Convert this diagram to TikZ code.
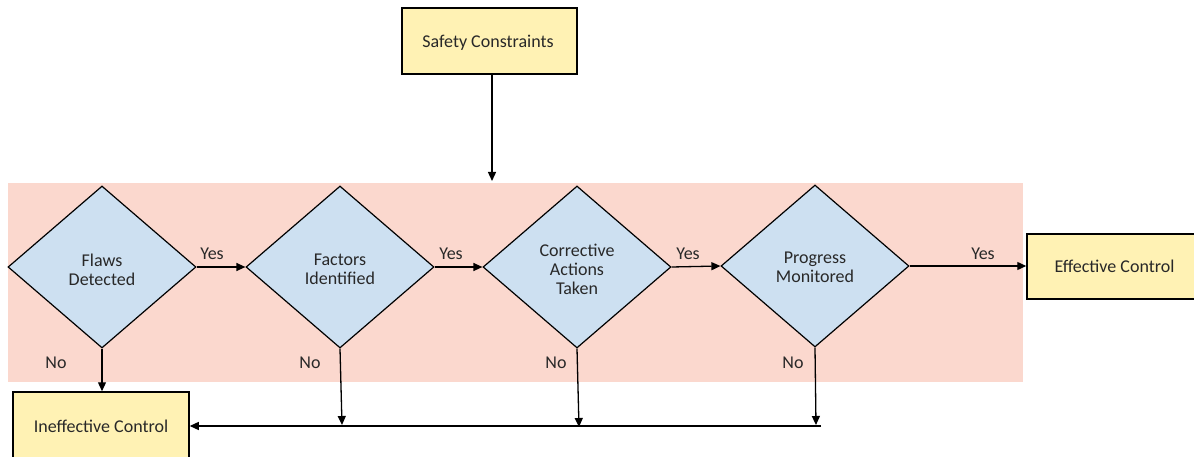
\documentclass[tikz,border=0pt]{standalone}
\usepackage{fontspec}
\setmainfont{Carlito}
\usetikzlibrary{shapes.geometric,arrows.meta}
\definecolor{bandpink}{RGB}{251,216,206}
\definecolor{boxyellow}{RGB}{255,242,180}
\definecolor{diablue}{RGB}{205,224,241}
\definecolor{txt}{RGB}{40,40,40}
\tikzset{
  yelbox/.style={draw=black,line width=1.5pt,fill=boxyellow,inner sep=0pt},
  decide/.style={diamond,draw=black,line width=1.2pt,fill=diablue,inner sep=0pt,minimum width=188pt,minimum height=162pt},
  conn/.style={line width=1.3pt,-{Triangle[length=9pt,width=8pt]}},
  lbl/.style={font=\fontsize{18}{19}\selectfont,text=txt,inner sep=0pt,align=center}
}
\begin{document}
\begin{tikzpicture}[x=1pt,y=-1pt]
\useasboundingbox (0,0) rectangle (1194,457);
\clip (0,0) rectangle (1194,457);
\fill[white] (0,0) rectangle (1194,457);
\fill[bandpink] (8,183) rectangle (1023,382);
% boxes
\node[yelbox,minimum width=175pt,minimum height=66pt] (sc) at (489.5,41) {};
\node[lbl] (sct) at (488,43) {Safety Constraints};
\node[yelbox,minimum width=170pt,minimum height=65pt] (ec) at (1112,266.5) {};
\node[lbl] (ect) at (1114.5,266) {Effective Control};
\node[yelbox,minimum width=176pt,minimum height=80pt] (ic) at (101,432) {};
\node[lbl] (ict) at (101,426) {Ineffective Control};
% diamonds
\node[decide] (d1) at (102,267) {};
\node[decide] (d2) at (340,267) {};
\node[decide] (d3) at (577,267) {};
\node[decide] (d4) at (815,266) {};
\node[lbl] (t1) at (102,269.5) {Flaws\\Detected};
\node[lbl] (t2) at (340,269.5) {Factors\\Identified};
\node[lbl] (t3) at (577,269) {Corrective\\Actions\\Taken};
\node[lbl] (t4) at (815,267.5) {Progress\\Monitored};
% coordinates
\coordinate (sctip) at (492,181);
\coordinate (b2) at (342,425);
\coordinate (b3) at (579,427);
\coordinate (b4) at (816,425);
\coordinate (lend) at (821,426);
% connectors
\draw[conn] (sc.south -| sctip) -- (sctip);
\draw[conn] (d1.east) -- (d2.west);
\draw[conn] (d2.east) -- (d3.west);
\draw[conn] (d3.east) -- (d4.west);
\draw[conn] (d4.east) -- (ec.west |- d4.east);
\draw[conn] (d1.south) -- (ic.north -| d1.south);
\draw[conn] (d2.south) -- (b2);
\draw[conn] (d3.south) -- (b3);
\draw[conn] (d4.south) -- (b4);
\draw[conn] (lend) -- (ic.east |- lend);
% labels
\node[lbl] (y1) at (212,254) {Yes};
\node[lbl] (y2) at (451,254) {Yes};
\node[lbl] (y3) at (688,254) {Yes};
\node[lbl] (y4) at (983,254) {Yes};
\node[lbl] (n1) at (56,363) {No};
\node[lbl] (n2) at (310,363) {No};
\node[lbl] (n3) at (556,363) {No};
\node[lbl] (n4) at (793,363) {No};
\end{tikzpicture}
\end{document}
